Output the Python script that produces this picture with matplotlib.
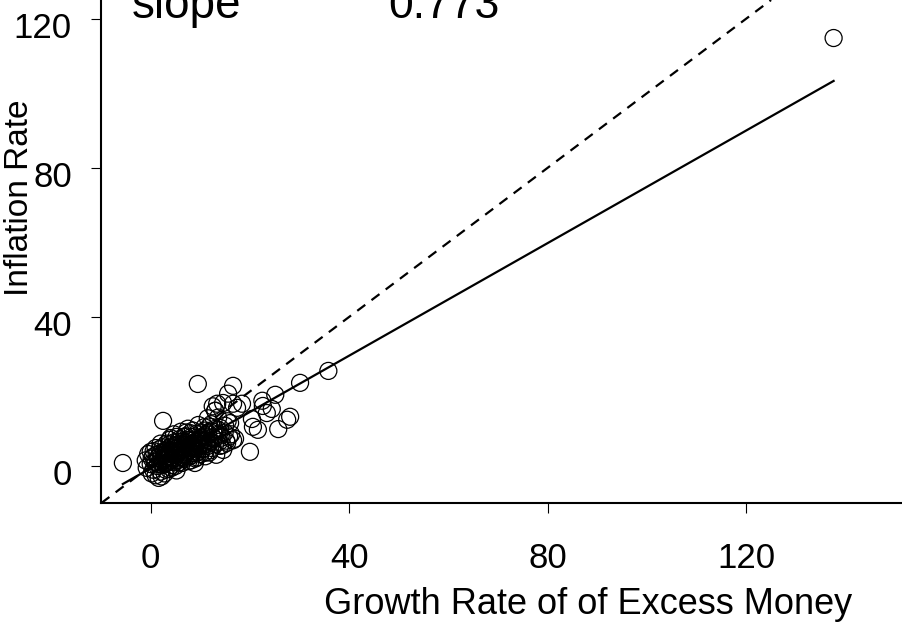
import matplotlib
matplotlib.use("Agg")
import matplotlib.pyplot as plt
import matplotlib.transforms as mtransforms
import numpy as np

plt.rcParams['font.family'] = ['Liberation Sans', 'DejaVu Sans']

# Growth rate of excess money (x) and inflation rate (y)
money_growth = [
    -5.6, 2.5, 9.5, 16.6, 15.6, 22.5, 25.1, 30.1, 35.8, 28.1, 27.5, 25.7, 21.6, 20.6,
    20.0, 23.4, 24.4, 22.6, 20.4, 13.4, 14.6, 16.6, 18.4, 13.0, 17.4, 17.0, 15.4, 14.0,
    137.6,
    -1.0, -0.5, 0.0, 0.2, 0.5, 0.6, 0.8, 1.0, 1.2, 1.3, 1.5, 1.6, 1.8, 2.0, 2.0,
    2.2, 2.4, 2.5, 2.6, 2.8, 3.0, 3.1, 3.2, 3.3, 3.5, 3.6, 3.7, 3.8, 4.0, 4.0,
    4.2, 4.3, 4.5, 4.6, 4.7, 4.8, 5.0, 5.1, 5.2, 5.4, 5.5, 5.6, 5.8, 5.9, 6.0,
    6.1, 6.2, 6.3, 6.5, 6.6, 6.8, 6.9, 7.0, 7.2, 7.3, 7.5, 7.6, 7.8, 7.9, 8.0,
    8.2, 8.3, 8.5, 8.6, 8.7, 8.9, 9.0, 9.2, 9.3, 9.5, 9.6, 9.8, 10.0, 10.0, 10.2,
    10.4, 10.6, 10.8, 11.0, 11.2, 11.4, 11.6, 11.8, 12.0, 12.2, 12.4, 12.6, 12.8, 13.0, 13.2,
    13.4, 13.6, 13.8, 14.0, 14.3, 14.6, 14.9, 15.2, 15.5, 15.8, 16.2, 16.6, 13.0, 12.5, 11.5,
    3.0, 4.5, 5.5, 6.0, 7.0, 8.0, 9.0, 2.0, 1.0, 4.0, 6.5, 8.5, 10.5, 3.5, 5.0, 7.5,
    0.5, 1.5, 2.5, 3.5, 4.5, 5.5, 6.5, 7.5, 8.5, 9.5, 10.5, 11.5, 2.0, 3.0, 4.0,
    5.0, 6.0, 7.0, 8.0, 9.0, 10.0, 11.0, 12.0, 1.0, 2.8, 3.8, 4.8, 5.8, 6.8, 7.8,
    8.8, 9.8, 10.8, 11.8, 0.2, 1.7, 2.7, 4.2, 5.2, 6.2, 7.2, 8.2, 9.2, 10.2, 12.5,
    13.5, 14.5, 15.0, 16.0, -0.8, 0.0, 2.2, 3.3, 5.6, 6.9, 8.1, 9.4, 11.3, 12.9, 14.1,
]
inflation = [
    0.8, 12.1, 22.0, 21.5, 19.4, 17.5, 19.1, 22.3, 25.5, 13.2, 12.4, 9.9, 9.7, 10.5,
    3.8, 14.2, 15.3, 16.1, 12.6, 16.7, 16.9, 16.7, 16.7, 14.8, 15.6, 7.3, 6.2, 5.4,
    114.8,
    1.5, 3.2, 0.5, 2.0, -1.0, 4.0, 1.2, -2.5, 3.0, 0.0, 2.2, -3.2, 4.5, 1.0, -1.5,
    2.8, 5.0, 0.3, 3.6, -2.0, 1.8, 4.2, 6.0, 0.8, 2.6, -0.8, 3.9, 7.0, 1.5, 5.2,
    2.3, 0.2, 3.4, 6.3, 8.5, 1.0, 4.6, 2.9, -1.2, 5.8, 3.8, 1.6, 7.2, 4.1, 2.4,
    9.2, 5.3, 0.8, 3.2, 6.6, 4.6, 2.0, 8.0, 5.6, 3.7, 10.0, 1.3, 6.9, 4.3, 2.8,
    7.8, 5.0, 9.5, 3.5, 6.2, 0.8, 4.8, 8.6, 2.3, 6.8, 11.0, 5.4, 3.2, 7.5, 9.0,
    4.5, 6.3, 10.4, 2.6, 7.9, 5.3, 8.7, 3.6, 6.6, 11.2, 4.8, 9.2, 7.3, 5.8, 3.0,
    8.3, 13.0, 6.5, 10.2, 7.6, 4.3, 9.0, 6.8, 12.0, 7.9, 8.5, 6.9, 14.8, 16.0, 12.8,
    3.0, 4.8, 2.0, 6.0, 3.0, 5.6, 6.5, 3.5, 1.0, 3.5, 5.0, 4.0, 5.5, 1.0, 0.0, 7.0,
    2.5, 0.5, 1.5, 4.5, 1.8, 6.5, 2.2, 4.8, 6.8, 3.8, 8.0, 6.0, 6.0, -1.0, 7.5,
    5.5, 3.8, 6.2, 8.8, 2.0, 5.8, 9.5, 4.2, 4.8, 2.2, 5.8, 3.0, 1.0, 7.8, 2.5,
    5.2, 7.2, 3.5, 10.6, -2.0, 2.8, 4.0, -0.5, 7.8, 4.4, 9.0, 3.3, 5.9, 6.9, 7.7,
    9.8, 5.6, 10.8, 11.5, -0.5, 3.8, -2.8, 2.0, 4.8, 5.7, 1.5, 4.4, 6.8, 9.9, 8.2,
]

fit_intercept = -0.6
fit_slope = 0.755
slope_label = "0.773"

x_ticks = [0, 40, 80, 120]
y_ticks = [0, 40, 80, 120]

fig = plt.figure(figsize=(9.02, 6.25), dpi=100)
ax = fig.add_axes([101 / 902, 122 / 625, 801 / 902, 503 / 625])

ax.scatter(money_growth, inflation, s=150, facecolors='none', edgecolors='black',
           linewidths=0.9, zorder=3)

xs = np.array([min(money_growth), max(money_growth)])
ax.plot(xs, fit_intercept + fit_slope * xs, color='black', lw=1.6, zorder=4)
ax.axline((0, 0), slope=1, color='black', lw=1.6, linestyle=(0, (4.5, 3.5)), zorder=4)

ax.set_xlim(-10.01, 151.38)
ax.set_ylim(-9.93, 125.0)

ax.set_xticks(x_ticks)
ax.set_yticks(y_ticks)
ax.tick_params(axis='both', direction='out', length=7, width=0.8, labelsize=25)
ax.tick_params(axis='y', pad=14)
ax.tick_params(axis='x', pad=21)

# shift y tick labels down slightly like the reference
offset = mtransforms.ScaledTranslation(0, -6 / 100, fig.dpi_scale_trans)
for lab in ax.get_yticklabels():
    lab.set_transform(lab.get_transform() + offset)

for side in ['top', 'right']:
    ax.spines[side].set_visible(False)
for side in ['left', 'bottom']:
    ax.spines[side].set_linewidth(1.5)

ax.set_xlabel("Growth Rate of of Excess Money", fontsize=26, va='baseline')
ax.xaxis.set_label_coords(0.608, (503 - 614) / 503)
ax.set_ylabel("Inflation Rate", fontsize=24, va='baseline')
ax.yaxis.set_label_coords((28 - 101) / 801, 0.6074)

ax.text(-3.8, 120.2, "slope", fontsize=33, va='baseline', ha='left', clip_on=False)
ax.text(47.9, 120.2, slope_label, fontsize=32, va='baseline', ha='left', clip_on=False)

fig.savefig("out.png", dpi=100)
